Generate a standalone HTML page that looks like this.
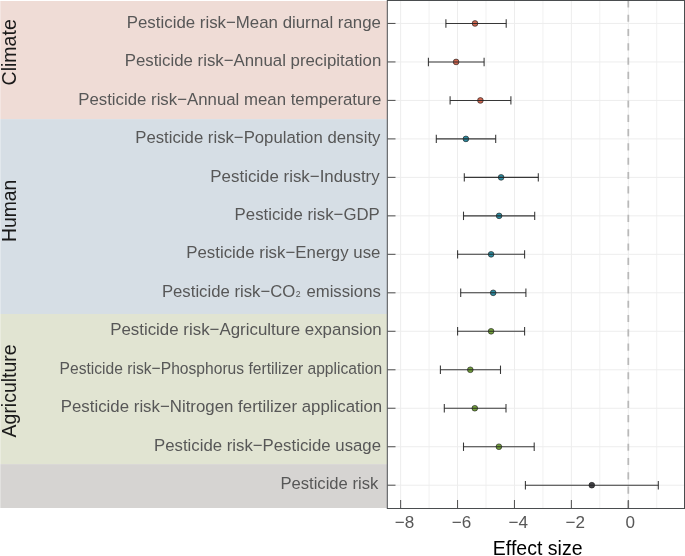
<!DOCTYPE html><html><head><meta charset="utf-8"><style>html,body{margin:0;padding:0;background:#fff;overflow:hidden;}svg{display:block;}.gs{will-change:transform;width:685px;height:556px;}text{font-family:"Liberation Sans",sans-serif;}</style></head><body>
<div class="gs">
<svg width="685" height="556" viewBox="0 0 685 556">
<rect x="0" y="0" width="685" height="556" fill="#fff"/>
<rect x="0.3" y="1" width="386.7" height="118.10" fill="#EFDCD6"/>
<rect x="0.3" y="119.1" width="386.7" height="194.90" fill="#D6DEE5"/>
<rect x="0.3" y="314.0" width="386.7" height="150.10" fill="#E1E4D2"/>
<rect x="0.3" y="464.1" width="386.7" height="43.90" fill="#D6D4D2"/>
<g stroke="#F1F1F1" stroke-width="1"><line x1="429.08" y1="0.5" x2="429.08" y2="508.0"/><line x1="486.00" y1="0.5" x2="486.00" y2="508.0"/><line x1="542.92" y1="0.5" x2="542.92" y2="508.0"/><line x1="599.84" y1="0.5" x2="599.84" y2="508.0"/><line x1="656.76" y1="0.5" x2="656.76" y2="508.0"/></g>
<g stroke="#EDEDED" stroke-width="1"><line x1="400.62" y1="0.5" x2="400.62" y2="508.0"/><line x1="457.54" y1="0.5" x2="457.54" y2="508.0"/><line x1="514.46" y1="0.5" x2="514.46" y2="508.0"/><line x1="571.38" y1="0.5" x2="571.38" y2="508.0"/><line x1="628.30" y1="0.5" x2="628.30" y2="508.0"/><line x1="387.5" y1="23.45" x2="684.2" y2="23.45"/><line x1="387.5" y1="61.93" x2="684.2" y2="61.93"/><line x1="387.5" y1="100.41" x2="684.2" y2="100.41"/><line x1="387.5" y1="138.89" x2="684.2" y2="138.89"/><line x1="387.5" y1="177.37" x2="684.2" y2="177.37"/><line x1="387.5" y1="215.85" x2="684.2" y2="215.85"/><line x1="387.5" y1="254.33" x2="684.2" y2="254.33"/><line x1="387.5" y1="292.81" x2="684.2" y2="292.81"/><line x1="387.5" y1="331.29" x2="684.2" y2="331.29"/><line x1="387.5" y1="369.77" x2="684.2" y2="369.77"/><line x1="387.5" y1="408.25" x2="684.2" y2="408.25"/><line x1="387.5" y1="446.73" x2="684.2" y2="446.73"/><line x1="387.5" y1="485.21" x2="684.2" y2="485.21"/></g>
<line x1="628.30" y1="508.0" x2="628.30" y2="0" stroke="#B9B9B9" stroke-width="1.75" stroke-dasharray="7.15 7.15"/>
<circle cx="475.0" cy="23.45" r="2.85" fill="#CF6650" stroke="#222" stroke-width="0.65"/><circle cx="456.1" cy="61.93" r="2.85" fill="#CF6650" stroke="#222" stroke-width="0.65"/><circle cx="480.4" cy="100.41" r="2.85" fill="#CF6650" stroke="#222" stroke-width="0.65"/><circle cx="465.9" cy="138.89" r="2.85" fill="#2D8DA2" stroke="#222" stroke-width="0.65"/><circle cx="501.1" cy="177.37" r="2.85" fill="#2D8DA2" stroke="#222" stroke-width="0.65"/><circle cx="499.1" cy="215.85" r="2.85" fill="#2D8DA2" stroke="#222" stroke-width="0.65"/><circle cx="491.1" cy="254.33" r="2.85" fill="#2D8DA2" stroke="#222" stroke-width="0.65"/><circle cx="493.2" cy="292.81" r="2.85" fill="#2D8DA2" stroke="#222" stroke-width="0.65"/><circle cx="491.1" cy="331.29" r="2.85" fill="#72A03A" stroke="#222" stroke-width="0.65"/><circle cx="470.3" cy="369.77" r="2.85" fill="#72A03A" stroke="#222" stroke-width="0.65"/><circle cx="474.8" cy="408.25" r="2.85" fill="#72A03A" stroke="#222" stroke-width="0.65"/><circle cx="498.9" cy="446.73" r="2.85" fill="#72A03A" stroke="#222" stroke-width="0.65"/><circle cx="591.8" cy="485.21" r="2.85" fill="#434347" stroke="#222" stroke-width="0.65"/>
<g stroke="#222" stroke-width="1.07" stroke-opacity="0.9"><line x1="445.9" y1="23.45" x2="506.2" y2="23.45"/><line x1="445.9" y1="19.25" x2="445.9" y2="27.65"/><line x1="506.2" y1="19.25" x2="506.2" y2="27.65"/><line x1="428.4" y1="61.93" x2="484.1" y2="61.93"/><line x1="428.4" y1="57.73" x2="428.4" y2="66.13"/><line x1="484.1" y1="57.73" x2="484.1" y2="66.13"/><line x1="450.1" y1="100.41" x2="510.9" y2="100.41"/><line x1="450.1" y1="96.21" x2="450.1" y2="104.61"/><line x1="510.9" y1="96.21" x2="510.9" y2="104.61"/><line x1="436.3" y1="138.89" x2="495.7" y2="138.89"/><line x1="436.3" y1="134.69" x2="436.3" y2="143.09"/><line x1="495.7" y1="134.69" x2="495.7" y2="143.09"/><line x1="464.3" y1="177.37" x2="538.3" y2="177.37"/><line x1="464.3" y1="173.17" x2="464.3" y2="181.57"/><line x1="538.3" y1="173.17" x2="538.3" y2="181.57"/><line x1="463.5" y1="215.85" x2="534.7" y2="215.85"/><line x1="463.5" y1="211.65" x2="463.5" y2="220.05"/><line x1="534.7" y1="211.65" x2="534.7" y2="220.05"/><line x1="457.6" y1="254.33" x2="524.6" y2="254.33"/><line x1="457.6" y1="250.13" x2="457.6" y2="258.53"/><line x1="524.6" y1="250.13" x2="524.6" y2="258.53"/><line x1="460.7" y1="292.81" x2="525.9" y2="292.81"/><line x1="460.7" y1="288.61" x2="460.7" y2="297.01"/><line x1="525.9" y1="288.61" x2="525.9" y2="297.01"/><line x1="457.6" y1="331.29" x2="524.6" y2="331.29"/><line x1="457.6" y1="327.09" x2="457.6" y2="335.49"/><line x1="524.6" y1="327.09" x2="524.6" y2="335.49"/><line x1="440.4" y1="369.77" x2="500.5" y2="369.77"/><line x1="440.4" y1="365.57" x2="440.4" y2="373.97"/><line x1="500.5" y1="365.57" x2="500.5" y2="373.97"/><line x1="444.3" y1="408.25" x2="506.0" y2="408.25"/><line x1="444.3" y1="404.05" x2="444.3" y2="412.45"/><line x1="506.0" y1="404.05" x2="506.0" y2="412.45"/><line x1="463.5" y1="446.73" x2="534.2" y2="446.73"/><line x1="463.5" y1="442.53" x2="463.5" y2="450.93"/><line x1="534.2" y1="442.53" x2="534.2" y2="450.93"/><line x1="525.4" y1="485.21" x2="658.3" y2="485.21"/><line x1="525.4" y1="481.01" x2="525.4" y2="489.41"/><line x1="658.3" y1="481.01" x2="658.3" y2="489.41"/></g>
<g stroke="#555" stroke-width="1.05"><line x1="387.5" y1="23.45" x2="395.5" y2="23.45"/><line x1="387.5" y1="61.93" x2="395.5" y2="61.93"/><line x1="387.5" y1="100.41" x2="395.5" y2="100.41"/><line x1="387.5" y1="138.89" x2="395.5" y2="138.89"/><line x1="387.5" y1="177.37" x2="395.5" y2="177.37"/><line x1="387.5" y1="215.85" x2="395.5" y2="215.85"/><line x1="387.5" y1="254.33" x2="395.5" y2="254.33"/><line x1="387.5" y1="292.81" x2="395.5" y2="292.81"/><line x1="387.5" y1="331.29" x2="395.5" y2="331.29"/><line x1="387.5" y1="369.77" x2="395.5" y2="369.77"/><line x1="387.5" y1="408.25" x2="395.5" y2="408.25"/><line x1="387.5" y1="446.73" x2="395.5" y2="446.73"/><line x1="387.5" y1="485.21" x2="395.5" y2="485.21"/><line x1="400.62" y1="500" x2="400.62" y2="508.5"/><line x1="457.54" y1="500" x2="457.54" y2="508.5"/><line x1="514.46" y1="500" x2="514.46" y2="508.5"/><line x1="571.38" y1="500" x2="571.38" y2="508.5"/><line x1="628.30" y1="500" x2="628.30" y2="508.5"/></g>
<g stroke="#4A4D4F" stroke-width="1" fill="none"><line x1="387.3" y1="0" x2="387.3" y2="509"/><line x1="387" y1="0.5" x2="685" y2="0.5"/><line x1="684.5" y1="0" x2="684.5" y2="509"/><line x1="387" y1="508.5" x2="685" y2="508.5"/></g>
<g font-size="17.2" fill="#575757"><text transform="translate(126.77 27.60) scale(0.9800 1)">Pesticide risk−Mean diurnal range</text><text transform="translate(124.67 66.08) scale(0.9786 1)">Pesticide risk−Annual precipitation</text><text transform="translate(78.17 104.56) scale(0.9776 1)">Pesticide risk−Annual mean temperature</text><text transform="translate(135.28 143.04) scale(0.9731 1)">Pesticide risk−Population density</text><text transform="translate(210.36 181.52) scale(0.9822 1)">Pesticide risk−Industry</text><text transform="translate(234.57 220.00) scale(0.9777 1)">Pesticide risk−GDP</text><text transform="translate(186.27 258.48) scale(0.9794 1)">Pesticide risk−Energy use</text><text transform="translate(161.88 296.96) scale(0.9735 1)">Pesticide risk−CO<tspan font-size="9" dx="0.4">2</tspan><tspan dx="1.14"> emissions</tspan></text><text transform="translate(110.16 335.44) scale(0.9822 1)">Pesticide risk−Agriculture expansion</text><text transform="translate(59.57 373.92) scale(0.9090 1)">Pesticide risk−Phosphorus fertilizer application</text><text transform="translate(60.77 412.40) scale(0.9794 1)">Pesticide risk−Nitrogen fertilizer application</text><text transform="translate(153.97 450.88) scale(0.9758 1)">Pesticide risk−Pesticide usage</text><text transform="translate(280.39 489.36) scale(0.9671 1)">Pesticide risk</text></g>
<g font-size="17.1" fill="#575757"><text x="394.81" y="527.9">−8</text><text x="451.81" y="527.9">−6</text><text x="508.61" y="527.9">−4</text><text x="565.51" y="527.9">−2</text><text x="625.58" y="527.9">0</text></g>
<text transform="translate(492.85 555.0) scale(0.9812 1)" font-size="19.9" fill="#000">Effect size</text>
<text transform="translate(15.8 85.44) rotate(-90) scale(1.0050 1)" font-size="19.45" fill="#1A1A1A">Climate</text>
<text transform="translate(15.8 242.04) rotate(-90) scale(0.9960 1)" font-size="19.45" fill="#1A1A1A">Human</text>
<text transform="translate(15.8 437.39) rotate(-90) scale(0.9993 1)" font-size="19.45" fill="#1A1A1A">Agriculture</text>
</svg></div></body></html>
